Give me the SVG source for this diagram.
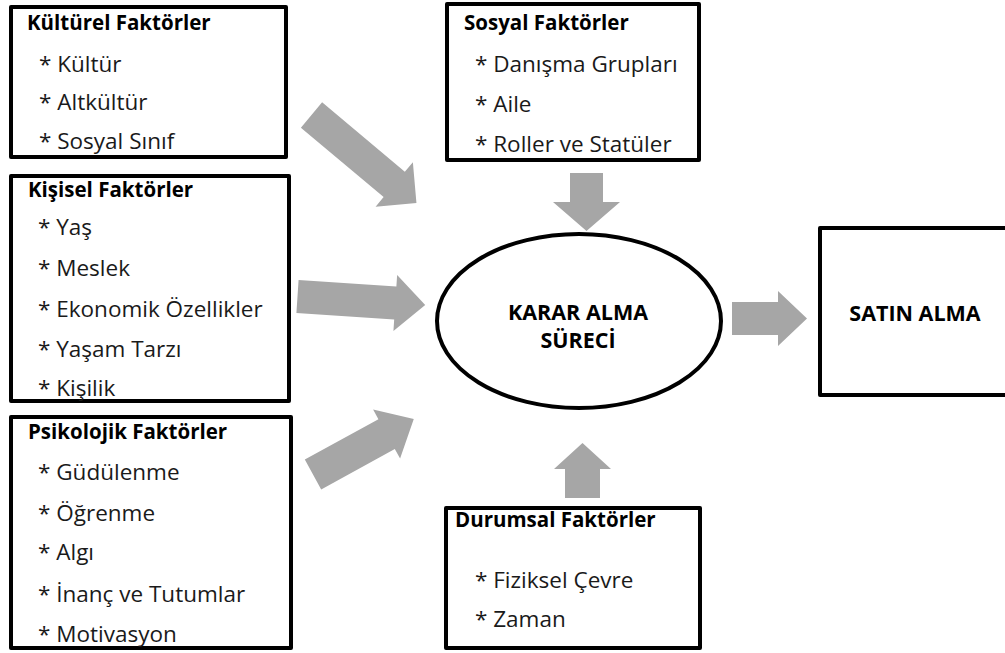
<svg xmlns="http://www.w3.org/2000/svg" width="1005" height="653" viewBox="0 0 1005 653">
  <style>
    .box { fill: #ffffff; stroke: #000000; stroke-width: 4; stroke-linejoin: round; }
    .oval { fill: #ffffff; stroke: #000000; stroke-width: 4; }
    .arrow { fill: #a6a6a6; stroke: none; }
    .title { font-family: "Open Sans", "Noto Sans", sans-serif; font-weight: 700; font-size: 20.5px; fill: #000000; }
    .item { font-family: "Open Sans", "Noto Sans", sans-serif; font-size: 22.5px; fill: #1a1a1a; }
    .center { font-family: "Open Sans", "Noto Sans", sans-serif; font-weight: 700; font-size: 21.5px; fill: #000000; text-anchor: middle; }
  </style>
  <rect width="1005" height="653" fill="#ffffff"/>

  <!-- block arrows -->
  <g id="connectors">
    <polygon class="arrow" transform="translate(311.5,115) rotate(40)" points="0,-16.5 108,-16.5 108,-29 137,0 108,29 108,16.5 0,16.5"/>
    <polygon class="arrow" transform="translate(297.5,296.5) rotate(3.8)" points="0,-16.5 98,-16.5 98,-28 128,0 98,28 98,16.5 0,16.5"/>
    <polygon class="arrow" transform="translate(313,474.5) rotate(-28.8)" points="0,-17 84,-17 84,-28 115,0 84,28 84,17 0,17"/>
    <polygon class="arrow" points="570,173 603,173 603,202 620,202 586.5,231 553,202 570,202"/>
    <polygon class="arrow" points="565,498 600,498 600,469 611,469 582.5,443 554,469 565,469"/>
    <polygon class="arrow" points="732,302 778,302 778,291 807,318.5 778,346 778,335 732,335"/>
  </g>

  <g id="kulturel">
    <rect class="box" x="11" y="7" width="275" height="150"/>
    <text class="title" x="27" y="30">Kültürel Faktörler</text>
    <text class="item" x="39" y="72">* Kültür</text>
    <text class="item" x="39" y="110">* Altkültür</text>
    <text class="item" x="39" y="149">* Sosyal Sınıf</text>
  </g>

  <g id="kisisel">
    <rect class="box" x="11" y="176" width="278" height="225"/>
    <text class="title" x="28" y="197">Kişisel Faktörler</text>
    <text class="item" x="38" y="235">* Yaş</text>
    <text class="item" x="38" y="276">* Meslek</text>
    <text class="item" x="38" y="317">* Ekonomik Özellikler</text>
    <text class="item" x="38" y="357">* Yaşam Tarzı</text>
    <text class="item" x="38" y="396">* Kişilik</text>
  </g>

  <g id="psikolojik">
    <rect class="box" x="11" y="417" width="280" height="231"/>
    <text class="title" x="28" y="439">Psikolojik Faktörler</text>
    <text class="item" x="38" y="480">* Güdülenme</text>
    <text class="item" x="38" y="521">* Öğrenme</text>
    <text class="item" x="38" y="560">* Algı</text>
    <text class="item" x="38" y="602">* İnanç ve Tutumlar</text>
    <text class="item" x="38" y="642">* Motivasyon</text>
  </g>

  <g id="sosyal">
    <rect class="box" x="447" y="4" width="252" height="156"/>
    <text class="title" x="464" y="30">Sosyal Faktörler</text>
    <text class="item" x="475" y="72">* Danışma Grupları</text>
    <text class="item" x="475" y="112">* Aile</text>
    <text class="item" x="475" y="152">* Roller ve Statüler</text>
  </g>

  <g id="durumsal">
    <rect class="box" x="446" y="508" width="254" height="140"/>
    <text class="title" x="455" y="527">Durumsal Faktörler</text>
    <text class="item" x="475" y="588">* Fiziksel Çevre</text>
    <text class="item" x="475" y="627">* Zaman</text>
  </g>

  <g id="karar">
    <ellipse class="oval" cx="579" cy="321" rx="142" ry="87"/>
    <text class="center" x="578" y="320">KARAR ALMA</text>
    <text class="center" x="578" y="348">SÜRECİ</text>
  </g>

  <g id="satin">
    <rect class="box" x="820" y="228" width="190" height="167"/>
    <text class="center" x="915" y="321">SATIN ALMA</text>
  </g>
</svg>
